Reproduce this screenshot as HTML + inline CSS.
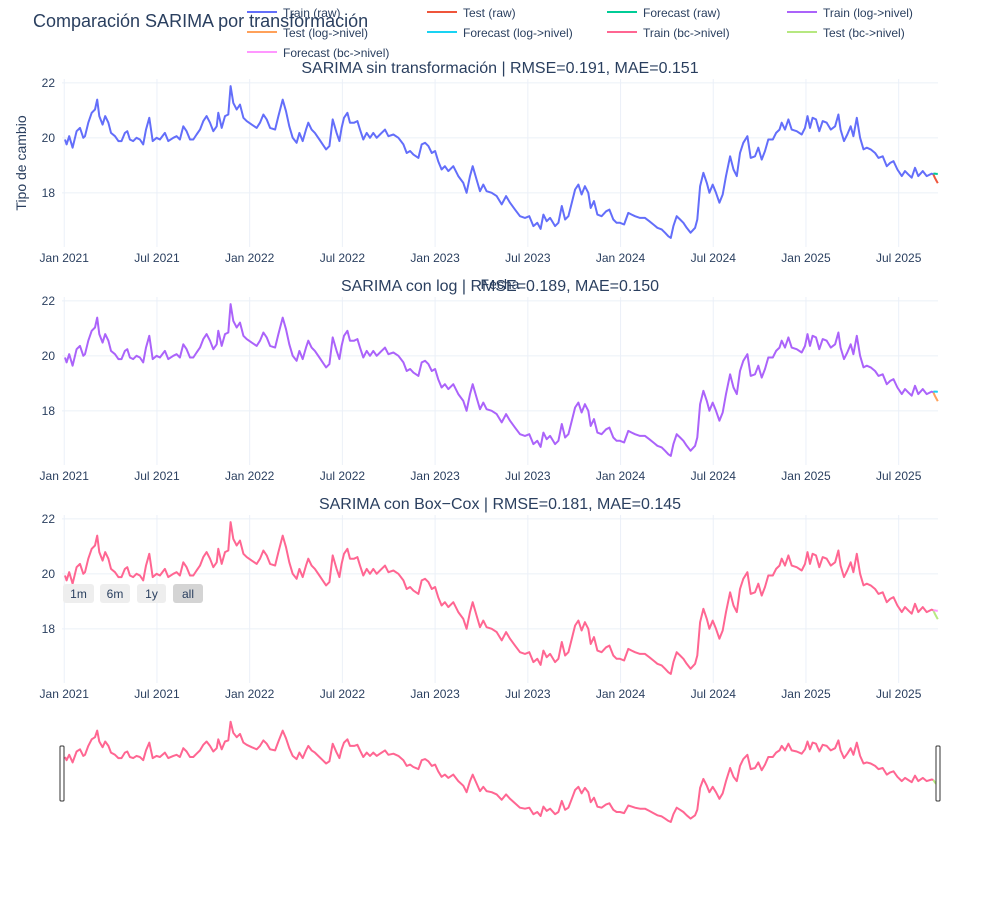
<!DOCTYPE html>
<html><head><meta charset="utf-8"><style>
body{margin:0;background:#fff;font-family:"Liberation Sans",sans-serif;}
svg text{font-family:"Liberation Sans",sans-serif;fill:#2a3f5f;}
</style></head><body>
<svg id="chart" width="1002" height="893" xmlns="http://www.w3.org/2000/svg"></svg>
<script>
// Train series (years since Jan 2021, exchange rate)
const trainT=[0.004,0.013,0.027,0.045,0.067,0.085,0.103,0.112,0.130,0.148,0.166,0.178,0.189,0.207,0.221,0.238,0.252,0.274,0.292,0.309,0.327,0.340,0.354,0.372,0.390,0.408,0.426,0.441,0.459,0.477,0.498,0.516,0.543,0.561,0.588,0.606,0.624,0.642,0.660,0.678,0.696,0.714,0.732,0.750,0.768,0.786,0.804,0.822,0.831,0.849,0.867,0.885,0.897,0.912,0.930,0.948,0.966,0.984,1.011,1.038,1.056,1.074,1.092,1.110,1.137,1.155,1.178,1.196,1.214,1.232,1.253,1.268,1.286,1.304,1.316,1.334,1.352,1.376,1.394,1.412,1.430,1.448,1.469,1.484,1.496,1.509,1.527,1.541,1.563,1.581,1.595,1.613,1.631,1.649,1.667,1.685,1.703,1.730,1.748,1.775,1.802,1.829,1.847,1.865,1.883,1.910,1.928,1.946,1.964,1.982,2.000,2.017,2.035,2.053,2.071,2.098,2.125,2.152,2.170,2.188,2.203,2.224,2.242,2.260,2.278,2.305,2.332,2.359,2.383,2.404,2.431,2.458,2.485,2.508,2.530,2.551,2.569,2.584,2.602,2.620,2.647,2.665,2.683,2.701,2.719,2.737,2.755,2.773,2.790,2.808,2.826,2.839,2.857,2.875,2.898,2.922,2.940,2.961,2.979,2.997,3.019,3.042,3.060,3.078,3.105,3.132,3.155,3.177,3.199,3.222,3.240,3.258,3.271,3.285,3.303,3.321,3.339,3.357,3.378,3.402,3.414,3.429,3.447,3.465,3.479,3.497,3.515,3.533,3.551,3.569,3.591,3.609,3.627,3.644,3.662,3.684,3.702,3.725,3.743,3.761,3.779,3.797,3.821,3.839,3.857,3.869,3.887,3.905,3.923,3.950,3.977,3.995,4.008,4.022,4.036,4.054,4.072,4.090,4.112,4.134,4.157,4.175,4.187,4.205,4.223,4.241,4.256,4.274,4.292,4.310,4.328,4.349,4.373,4.391,4.414,4.436,4.454,4.472,4.493,4.517,4.534,4.552,4.570,4.588,4.606,4.630,4.651,4.678,4.687];
const trainV=[19.94,19.76,20.06,19.64,20.24,20.36,20.0,20.06,20.55,20.91,21.03,21.39,20.79,20.48,20.79,20.55,20.18,20.06,19.88,19.88,20.18,20.24,19.94,19.88,20.0,19.94,19.76,20.30,20.73,19.88,20.0,19.94,20.18,19.88,20.0,20.06,19.94,20.42,20.24,19.94,19.94,20.12,20.30,20.61,20.79,20.55,20.24,20.42,20.91,20.36,20.79,20.85,21.88,21.27,21.03,21.21,20.73,20.61,20.48,20.36,20.55,20.85,20.67,20.36,20.30,20.79,21.39,20.97,20.42,20.0,19.82,20.18,19.88,20.30,20.55,20.30,20.18,19.94,19.76,19.58,19.70,20.67,20.18,19.88,20.36,20.73,20.91,20.55,20.55,20.61,20.30,19.94,20.18,20.0,20.18,20.0,20.12,20.30,20.06,20.12,20.0,19.76,19.45,19.52,19.39,19.27,19.76,19.82,19.70,19.45,19.52,19.15,18.85,18.97,18.79,18.97,18.61,18.36,18.0,18.61,18.97,18.48,18.06,18.30,18.06,18.0,17.88,17.58,17.88,17.64,17.39,17.15,17.09,17.15,16.79,16.91,16.69,17.21,16.97,17.09,16.79,16.91,17.52,17.03,17.15,17.64,18.12,18.30,17.94,18.24,18.0,17.45,17.70,17.21,17.15,17.33,17.39,17.03,16.91,16.91,16.85,17.27,17.21,17.15,17.09,17.09,16.97,16.85,16.73,16.67,16.55,16.42,16.36,16.79,17.15,17.03,16.91,16.73,16.55,16.73,17.03,18.24,18.73,18.36,18.0,18.30,18.0,17.64,17.94,18.61,19.33,18.85,18.61,19.45,19.82,20.06,19.27,19.33,19.64,19.21,19.52,19.94,19.94,20.18,20.30,20.55,20.30,20.67,20.30,20.24,20.12,20.36,20.79,20.36,20.73,20.67,20.24,20.61,20.55,20.30,20.42,20.85,20.30,19.88,20.12,20.42,20.06,20.73,20.0,19.58,19.64,19.58,19.45,19.27,19.33,18.97,19.09,19.15,18.85,18.61,18.79,18.67,18.55,18.91,18.61,18.79,18.61,18.70,18.67];
const testT=[4.687,4.695,4.703,4.711];
const testRaw=[18.67,18.55,18.45,18.35];
const fcRaw=[18.70,18.70,18.69,18.69];
const testLog=[18.67,18.55,18.45,18.35];
const fcLog=[18.70,18.70,18.70,18.69];
const testBc=[18.67,18.55,18.45,18.35];
const fcBc=[18.67,18.67,18.66,18.66];
const xTickLabels=["Jan 2021","Jul 2021","Jan 2022","Jul 2022","Jan 2023","Jul 2023","Jan 2024","Jul 2024","Jan 2025","Jul 2025"];
const xTickVals=[0,0.5,1,1.5,2,2.5,3,3.5,4,4.5];
const yTickVals=[18,20,22];

const NS="http://www.w3.org/2000/svg";
const svg=document.getElementById('chart');
function el(tag,attrs,parent){const e=document.createElementNS(NS,tag);for(const k in attrs)e.setAttribute(k,attrs[k]);(parent||svg).appendChild(e);return e;}
const X0=62,X1=938,TMIN=-0.012,TMAX=4.712;
const xs=t=>X0+(t-TMIN)/(TMAX-TMIN)*(X1-X0);
const YMIN=16.03,YMAX=22.14,PH=168;

function txt(x,y,s,size,anchor,name,parent){const t=el('text',{x:x,y:y,'font-size':size,'text-anchor':anchor||'start'},parent);t.textContent=s;return t;}

function line(T,V,xf,yf,color,w,name,parent){
  let d='';T.forEach((t,i)=>{d+=(i?'L':'M')+xf(t).toFixed(1)+','+yf(V[i]).toFixed(1);});
  const p=el('path',{d:d,fill:'none',stroke:color,'stroke-width':w,'stroke-linejoin':'round'},parent);
  return p;
}

const panels=[
 {top:79,title:"SARIMA sin transformación | RMSE=0.191, MAE=0.151",train:'#636efa',test:'#EF553B',fc:'#00cc96',tv:testRaw,fv:fcRaw,n:'raw'},
 {top:297,title:"SARIMA con log | RMSE=0.189, MAE=0.150",train:'#ab63fa',test:'#FFA15A',fc:'#19d3f3',tv:testLog,fv:fcLog,n:'log'},
 {top:515,title:"SARIMA con Box\u2212Cox | RMSE=0.181, MAE=0.145",train:'#FF6692',test:'#B6E880',fc:'#FF97FF',tv:testBc,fv:fcBc,n:'bc'}
];
panels.forEach((p,pi)=>{
  const g=el('g',{});
  
  
  const ys=v=>p.top+(YMAX-v)/(YMAX-YMIN)*PH;
  xTickVals.forEach((v,i)=>{
    const gl=el('line',{x1:xs(v),x2:xs(v),y1:p.top,y2:p.top+PH,stroke:'#EBF0F8','stroke-width':1},g);
    
    txt(xs(v),p.top+PH+15,xTickLabels[i],12,'middle','x-tick-label',g);
  });
  yTickVals.forEach(v=>{
    const gl=el('line',{x1:X0,x2:X1,y1:ys(v),y2:ys(v),stroke:'#EBF0F8','stroke-width':1},g);
    
    txt(55,ys(v)+4,String(v),12,'end','y-tick-label',g);
  });
  line(trainT,trainV,xs,ys,p.train,2,'train-line-'+p.n,g);
  line(testT,p.tv,xs,ys,p.test,2,'test-line-'+p.n,g);
  line(testT,p.fv,xs,ys,p.fc,2,'forecast-line-'+p.n,g);
  txt(500,p.top-6,p.title,16,'middle','subplot-title-'+p.n,g);
});

// axis titles
txt(500,289,"Fecha",14,'middle','x-axis-title');
const yt=txt(0,0,"Tipo de cambio",14,'middle','y-axis-title');
yt.setAttribute('transform','translate(26,163) rotate(-90)');

// main title
txt(33,27,"Comparación SARIMA por transformación",18,'start','chart-title');

// legend
const legNames=["Train (raw)","Test (raw)","Forecast (raw)","Train (log->nivel)","Test (log->nivel)","Forecast (log->nivel)","Train (bc->nivel)","Test (bc->nivel)","Forecast (bc->nivel)"];
const legColors=['#636efa','#EF553B','#00cc96','#ab63fa','#FFA15A','#19d3f3','#FF6692','#B6E880','#FF97FF'];
legNames.forEach((n,i)=>{
  const col=i%4,row=Math.floor(i/4);
  const lx=247+col*180,ly=12+row*20;
  const g=el('g',{});
  
  
  el('line',{x1:lx,x2:lx+30,y1:ly,y2:ly,stroke:legColors[i],'stroke-width':2},g);
  txt(lx+36,ly+5,n,12,'start','legend-label',g);
});

// range selector buttons
const btns=[["1m",63,31],["6m",100,30],["1y",137,29],["all",173,30]];
btns.forEach((b,i)=>{
  const g=el('g',{});
  
  
  el('rect',{x:b[1],y:584,width:b[2],height:19,rx:3,fill:i==3?'#d4d4d4':'#eeeeee'},g);
  txt(b[1]+b[2]/2,598,b[0],12,'middle','range-button-label',g);
});

// range slider
const rs=el('g',{});


const RTOP=717,RH=111;
const rys=v=>RTOP+(YMAX-v)/(YMAX-YMIN)*RH;
line(trainT,trainV,xs,rys,'#FF6692',2,'range-slider-line',rs);
line(testT,testBc,xs,rys,'#B6E880',2,'range-slider-test',rs);
[X0-2,X1-2].forEach((hx,i)=>{
  const h=el('rect',{x:hx,y:746,width:4,height:55,fill:'#fff',stroke:'#333','stroke-width':1,rx:1},rs);
  
  
});
</script>
</body></html>
